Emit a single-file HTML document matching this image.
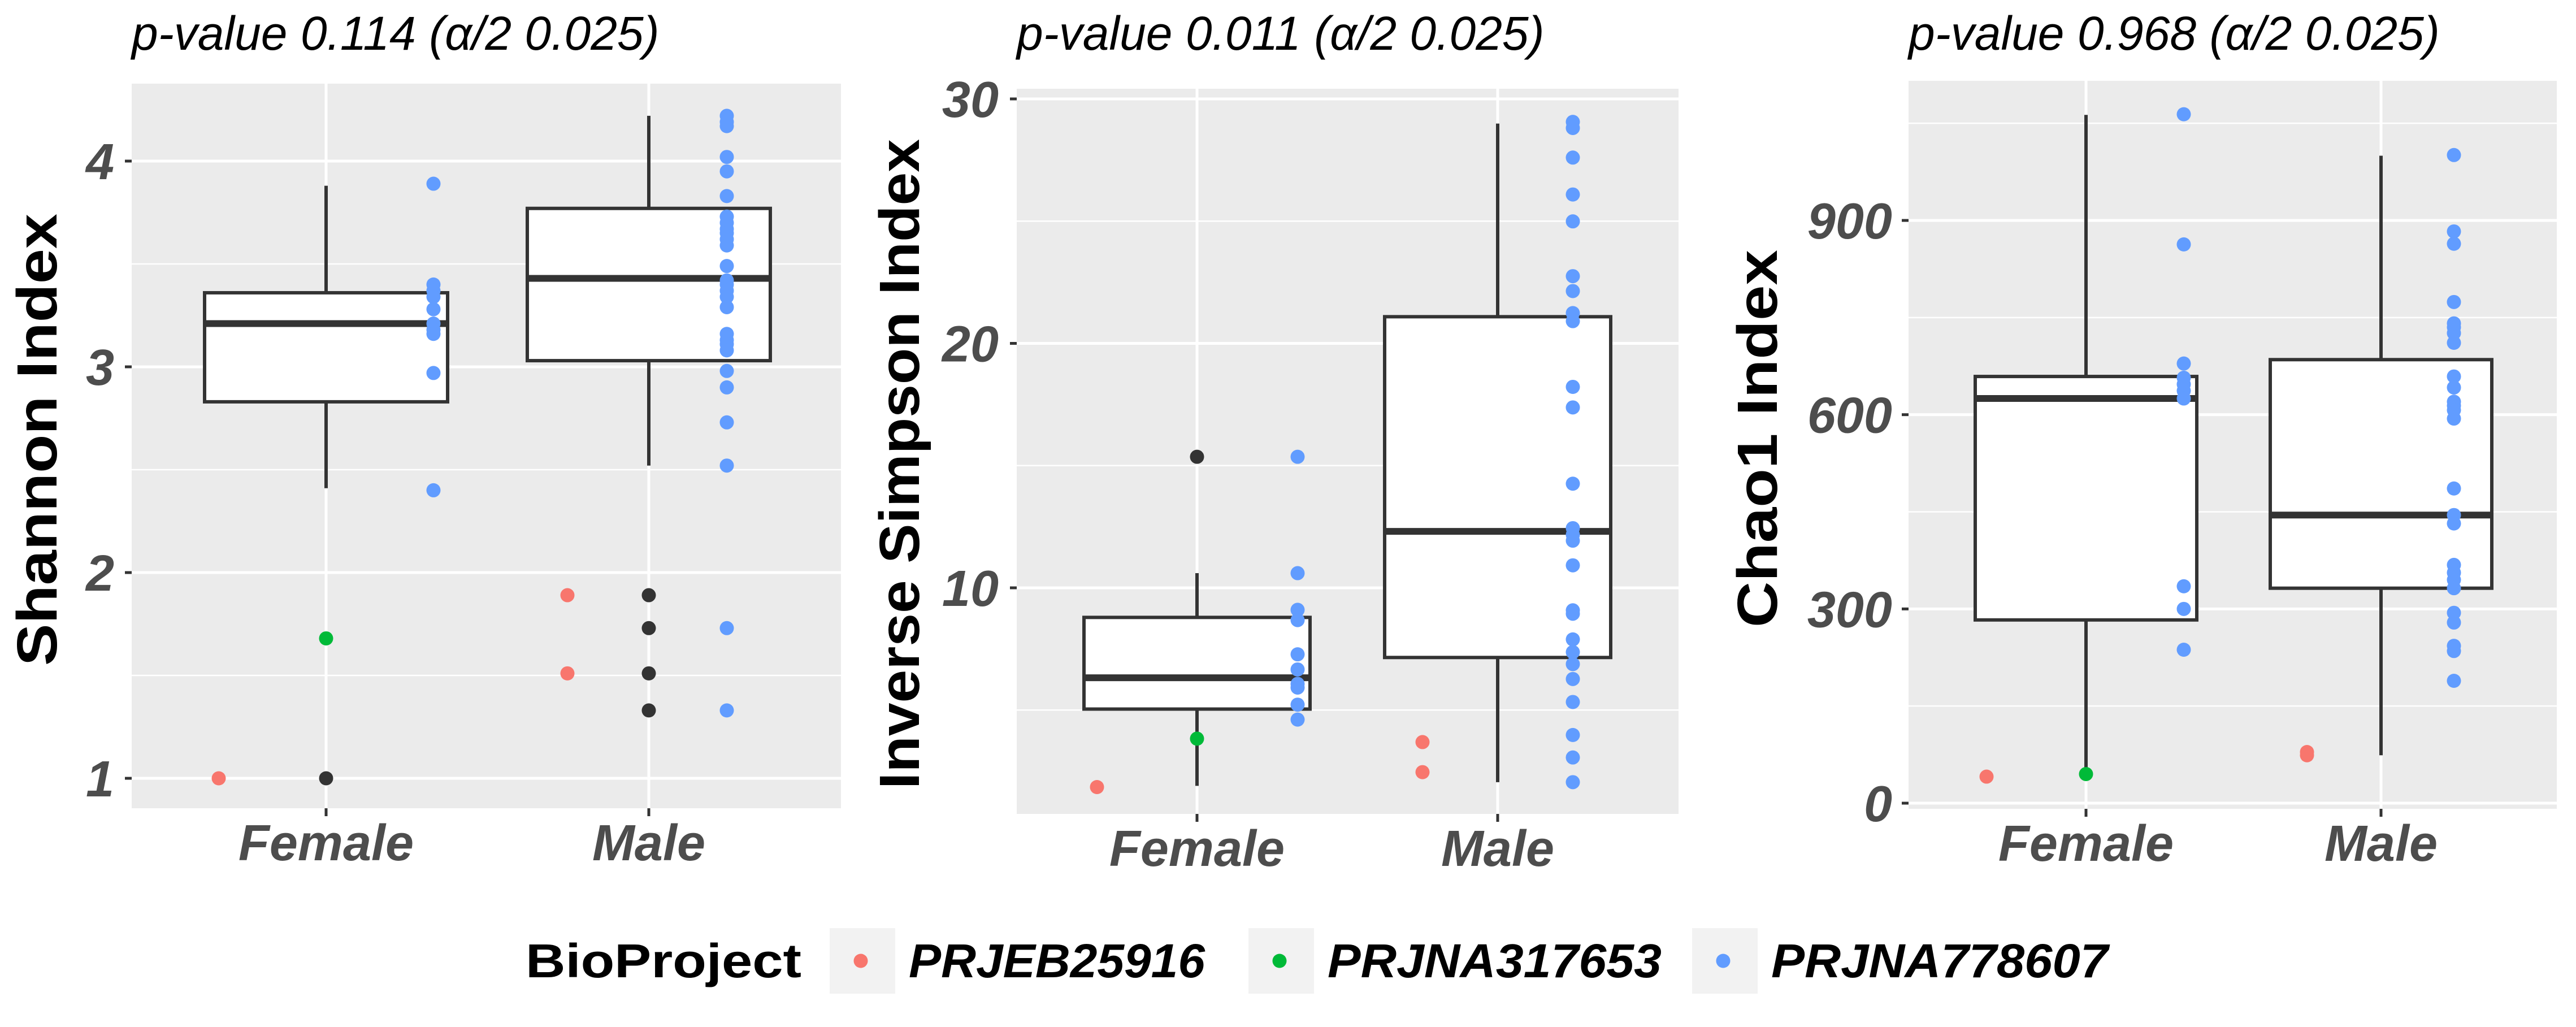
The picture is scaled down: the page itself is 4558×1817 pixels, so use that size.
<!DOCTYPE html>
<html><head><meta charset="utf-8"><style>
html,body{margin:0;padding:0;background:#fff;}
svg{display:block;font-family:"Liberation Sans",sans-serif;}
</style></head><body>
<svg id="chart" width="4558" height="1817" viewBox="0 0 4558 1817" xmlns="http://www.w3.org/2000/svg"></svg>
<script>
// ---------- data ----------
const categories = ["Female", "Male"];
const projects = ["PRJEB25916", "PRJNA317653", "PRJNA778607"];
const projectColors = ["#F8766D", "#00BA38", "#619CFF"];

const shannonTitle = "p-value 0.114 (α/2 0.025)";
const shannonTicks = [1, 2, 3, 4];
const shannonMinor = [1.5, 2.5, 3.5];
const shannonBox = [[2.41, 2.83, 3.21, 3.36, 3.88], [2.52, 3.03, 3.43, 3.77, 4.22]];
const shannonOutliers = [[1.0], [1.89, 1.73, 1.51, 1.33]];
const shannonRedF = [1.0];
const shannonRedM = [1.89, 1.51];
const shannonGreenF = [1.68];
const shannonGreenM = [];
const shannonBlueF = [3.89, 3.40, 3.37, 3.34, 3.28, 3.21, 3.18, 3.16, 2.97, 2.40];
const shannonBlueM = [4.22, 4.19, 4.17, 4.02, 3.95, 3.83, 3.73, 3.70, 3.67, 3.65, 3.62, 3.59, 3.49, 3.42, 3.40, 3.37, 3.34, 3.29, 3.16, 3.13, 3.11, 3.08, 2.98, 2.90, 2.73, 2.52, 1.73, 1.33];

const simpsonTitle = "p-value 0.011 (α/2 0.025)";
const simpsonTicks = [10, 20, 30];
const simpsonMinor = [5, 15, 25];
const simpsonBox = [[1.9, 5.04, 6.32, 8.79, 10.6], [2.05, 7.15, 12.31, 21.09, 28.99]];
const simpsonOutliers = [[15.36], []];
const simpsonRedF = [1.85];
const simpsonRedM = [3.69, 2.46];
const simpsonGreenF = [3.83];
const simpsonGreenM = [];
const simpsonBlueF = [15.36, 10.6, 9.1, 8.68, 7.28, 6.66, 6.07, 5.92, 5.22, 4.61];
const simpsonBlueM = [29.06, 28.81, 27.60, 26.09, 24.99, 22.75, 22.14, 21.24, 20.91, 18.22, 17.38, 14.26, 12.44, 12.17, 11.93, 10.92, 9.08, 8.94, 7.89, 7.37, 6.88, 6.27, 5.33, 3.98, 3.06, 2.05];

const chaoTitle = "p-value 0.968 (α/2 0.025)";
const chaoTicks = [0, 300, 600, 900];
const chaoMinor = [150, 450, 750, 1050];
const chaoBox = [[45, 283, 625, 659, 1063], [74, 332, 445, 685, 1000]];
const chaoOutliers = [[], []];
const chaoRedF = [41];
const chaoRedM = [79, 74];
const chaoGreenF = [45];
const chaoGreenM = [];
const chaoBlueF = [1064, 863, 679, 657, 647, 637, 625, 335, 300, 237];
const chaoBlueM = [1001, 883, 864, 774, 741, 735, 726, 711, 659, 642, 620, 614, 607, 594, 486, 445, 432, 368, 356, 345, 332, 294, 279, 243, 235, 189];

// ---------- layout ----------
const NS = "http://www.w3.org/2000/svg";
const svg = document.getElementById("chart");
function mk(tag, attrs, parent) {
  const e = document.createElementNS(NS, tag);
  for (const k in attrs) e.setAttribute(k, attrs[k]);
  (parent || svg).appendChild(e);
  return e;
}

const panels = [
  {key:"shannon", yTitle:"Shannon Index", title:shannonTitle, ticks:shannonTicks, minor:shannonMinor, box:shannonBox, out:shannonOutliers,
   red:[shannonRedF, shannonRedM], green:[shannonGreenF, shannonGreenM], blue:[shannonBlueF, shannonBlueM],
   x0:233, x1:1488, y0:148, y1:1430, cal:[1, 1377, 4, 285], cx:[577, 1148], off:[[-190, 190], [-144, 138]], bw:430,
   tickRight:202, yTitleX:100, yTitleY:778, yTitleLen:800},
  {key:"inverse-simpson", yTitle:"Inverse Simpson Index", title:simpsonTitle, ticks:simpsonTicks, minor:simpsonMinor, box:simpsonBox, out:simpsonOutliers,
   red:[simpsonRedF, simpsonRedM], green:[simpsonGreenF, simpsonGreenM], blue:[simpsonBlueF, simpsonBlueM],
   x0:1799, x1:2970, y0:157, y1:1440, cal:[10, 1040, 30, 175], cx:[2118, 2650], off:[[-177, 178], [-133, 133]], bw:400,
   tickRight:1767, yTitleX:1626, yTitleY:821, yTitleLen:1150},
  {key:"chao1", yTitle:"Chao1 Index", title:chaoTitle, ticks:chaoTicks, minor:chaoMinor, box:chaoBox, out:chaoOutliers,
   red:[chaoRedF, chaoRedM], green:[chaoGreenF, chaoGreenM], blue:[chaoBlueF, chaoBlueM],
   x0:3377, x1:4524, y0:143, y1:1431, cal:[0, 1421, 900, 390], cx:[3691, 4213], off:[[-176, 173], [-131, 129]], bw:392,
   tickRight:3348, yTitleX:3144, yTitleY:776, yTitleLen:668}
];

panels.forEach(p => {
  const g = mk("g", {});
  
  
  const ys = v => p.cal[1] + (v - p.cal[0]) * (p.cal[3] - p.cal[1]) / (p.cal[2] - p.cal[0]);
  const bg = mk("rect", {x:p.x0, y:p.y0, width:p.x1-p.x0, height:p.y1-p.y0, fill:"#EBEBEB"}, g);
  
  
  p.minor.forEach(v => { const l = mk("line", {x1:p.x0, x2:p.x1, y1:ys(v), y2:ys(v), stroke:"#fff", "stroke-width":2.5}, g);
      });
  p.ticks.forEach(v => { const l = mk("line", {x1:p.x0, x2:p.x1, y1:ys(v), y2:ys(v), stroke:"#fff", "stroke-width":5}, g);
      });
  p.cx.forEach(x => { const l = mk("line", {x1:x, x2:x, y1:p.y0, y2:p.y1, stroke:"#fff", "stroke-width":5}, g);
      });
  p.ticks.forEach(v => {
    const t = mk("line", {x1:p.x0-12, x2:p.x0, y1:ys(v), y2:ys(v), stroke:"#333", "stroke-width":5}, g);
     
    const tx = mk("text", {x:p.tickRight, y:ys(v)+32, "text-anchor":"end", "font-size":90, "font-weight":"bold", "font-style":"italic", fill:"#4D4D4D"}, g);
    tx.textContent = v;
     
  });
  categories.forEach((c, i) => {
    const t = mk("line", {x1:p.cx[i], x2:p.cx[i], y1:p.y1, y2:p.y1+14, stroke:"#333", "stroke-width":5}, g);
     
    const tx = mk("text", {x:p.cx[i], y:p.y1+92, "text-anchor":"middle", "font-size":90, "font-weight":"bold", "font-style":"italic", fill:"#4D4D4D"}, g);
    tx.textContent = c;
     
  });
  p.box.forEach((b, i) => {
    const cx = p.cx[i];
    const w1 = mk("line", {x1:cx, x2:cx, y1:ys(b[0]), y2:ys(b[1]), stroke:"#333", "stroke-width":6}, g);
     
    const w2 = mk("line", {x1:cx, x2:cx, y1:ys(b[3]), y2:ys(b[4]), stroke:"#333", "stroke-width":6}, g);
     
    const r = mk("rect", {x:cx-p.bw/2, y:ys(b[3]), width:p.bw, height:ys(b[1])-ys(b[3]), fill:"#fff", stroke:"#333", "stroke-width":6}, g);
     
    const m = mk("line", {x1:cx-p.bw/2, x2:cx+p.bw/2, y1:ys(b[2]), y2:ys(b[2]), stroke:"#333", "stroke-width":12}, g);
     
    p.out[i].forEach(v => {
      const c = mk("circle", {cx:cx, cy:ys(v), r:12.5, fill:"#333"}, g);
       
    });
  });
  categories.forEach((c, i) => {
    const groups = [[p.red[i], 0, p.off[i][0]], [p.green[i], 1, 0], [p.blue[i], 2, p.off[i][1]]];
    groups.forEach(([vals, pi, dx]) => {
      vals.forEach(v => {
        const pt = mk("circle", {cx:p.cx[i]+dx, cy:ys(v), r:12.5, fill:projectColors[pi]}, g);
        
        
      });
    });
  });
  const ti = mk("text", {x:p.x0, y:88, "font-size":84, "font-style":"italic", fill:"#000"}, g);
  ti.textContent = p.title;
   
  const yt = mk("text", {x:0, y:0, transform:`translate(${p.yTitleX},${p.yTitleY}) rotate(-90)`, "text-anchor":"middle", "font-size":100, "font-weight":"bold", fill:"#000", textLength:p.yTitleLen, lengthAdjust:"spacingAndGlyphs"}, g);
  yt.textContent = p.yTitle;
   
});

const lg = mk("g", {});


const lt = mk("text", {x:930, y:1729, "font-size":84, "font-weight":"bold", fill:"#000", textLength:488, lengthAdjust:"spacingAndGlyphs"}, lg);
lt.textContent = "BioProject";
 
const keyX = [1468, 2209, 2994];
const labLen = [524, 591, 596];
projects.forEach((pr, i) => {
  const k = mk("rect", {x:keyX[i], y:1642, width:116, height:116, fill:"#F2F2F2"}, lg);
   
  const d = mk("circle", {cx:keyX[i]+55, cy:1700, r:12.5, fill:projectColors[i]}, lg);
   
  const t = mk("text", {x:keyX[i]+140, y:1729, "font-size":84, "font-weight":"bold", "font-style":"italic", fill:"#000", textLength:labLen[i], lengthAdjust:"spacingAndGlyphs"}, lg);
  t.textContent = pr;
   
});
</script>
</body></html>
